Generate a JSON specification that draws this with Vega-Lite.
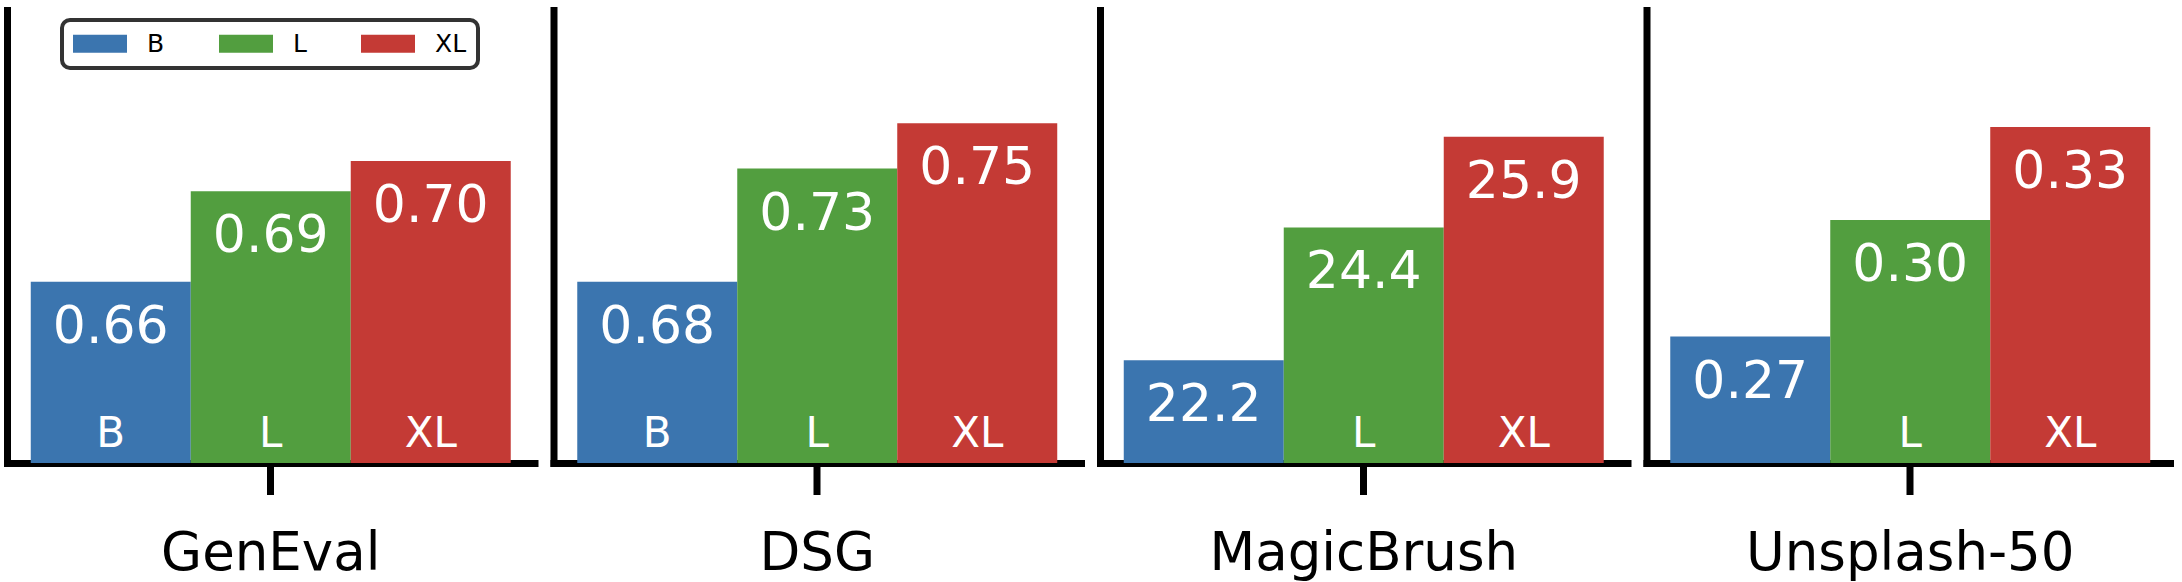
{
  "$schema": "https://vega.github.io/schema/vega-lite/v6.json",
  "padding": {"left": 7, "top": 10, "right": 0, "bottom": 0},
  "background": "white",
  "datasets": {
    "results": [
      {"benchmark": "GenEval", "size": "B", "score": 0.66, "label": "0.66", "tag": "B"},
      {"benchmark": "GenEval", "size": "L", "score": 0.69, "label": "0.69", "tag": "L"},
      {"benchmark": "GenEval", "size": "XL", "score": 0.70, "label": "0.70", "tag": "XL"},
      {"benchmark": "DSG", "size": "B", "score": 0.68, "label": "0.68", "tag": "B"},
      {"benchmark": "DSG", "size": "L", "score": 0.73, "label": "0.73", "tag": "L"},
      {"benchmark": "DSG", "size": "XL", "score": 0.75, "label": "0.75", "tag": "XL"},
      {"benchmark": "MagicBrush", "size": "B", "score": 22.2, "label": "22.2", "tag": ""},
      {"benchmark": "MagicBrush", "size": "L", "score": 24.4, "label": "24.4", "tag": "L"},
      {"benchmark": "MagicBrush", "size": "XL", "score": 25.9, "label": "25.9", "tag": "XL"},
      {"benchmark": "Unsplash-50", "size": "B", "score": 0.2735, "label": "0.27", "tag": ""},
      {"benchmark": "Unsplash-50", "size": "L", "score": 0.3044, "label": "0.30", "tag": "L"},
      {"benchmark": "Unsplash-50", "size": "XL", "score": 0.329, "label": "0.33", "tag": "XL"}
    ]
  },
  "spacing": 18.5,
  "bounds": "flush",
  "hconcat": [
    {
      "width": 527.5, "height": 453,
      "data": {"name": "results"},
      "transform": [{"filter": "datum.benchmark === 'GenEval'"}],
      "encoding": {
        "x": {"field": "benchmark", "type": "nominal", "title": null, "scale": {"paddingInner": 0, "paddingOuter": 0.0495}},
        "xOffset": {"field": "size", "type": "nominal", "sort": ["B", "L", "XL"], "scale": {"paddingInner": 0, "paddingOuter": 0}}
      },
      "layer": [
        {"mark": {"type": "bar"},
         "encoding": {
           "y": {"field": "score", "type": "quantitative", "title": null, "scale": {"domain": [0.6, 0.75], "nice": false, "zero": false}},
           "y2": {"datum": 0.6},
           "color": {"field": "size", "type": "nominal", "scale": {"domain": ["B", "L", "XL"], "range": ["#3b75af", "#529e3f", "#c43a35"]},
             "legend": {"title": null, "orient": "none", "legendX": 55, "legendY": 10, "direction": "horizontal", "columns": 3, "symbolType": "M-1,-0.72H3.32V0.72H-1Z", "symbolSize": 625, "symbolStrokeWidth": 0, "symbolOpacity": 1, "labelOffset": 49, "columnPadding": 54, "labelFontSize": 25, "labelFont": "DejaVu Sans", "labelColor": "black", "padding": 11, "fillColor": "white", "strokeColor": "#333333", "cornerRadius": 8,
               "encode": {"legend": {"update": {"strokeWidth": {"value": 4}}}}}}
         }},
        {"mark": {"type": "text", "color": "white", "fontSize": 52, "font": "DejaVu Sans", "baseline": "alphabetic", "dy": 61},
         "encoding": {"y": {"field": "score", "type": "quantitative"}, "text": {"field": "label"}}},
        {"mark": {"type": "text", "color": "white", "fontSize": 42, "font": "DejaVu Sans", "baseline": "alphabetic", "dy": -16.5},
         "encoding": {"y": {"datum": 0.6, "type": "quantitative"}, "text": {"field": "tag"}}}
      ]
    },
    {
      "width": 527.5, "height": 453,
      "data": {"name": "results"},
      "transform": [{"filter": "datum.benchmark === 'DSG'"}],
      "encoding": {
        "x": {"field": "benchmark", "type": "nominal", "title": null, "scale": {"paddingInner": 0, "paddingOuter": 0.0495}},
        "xOffset": {"field": "size", "type": "nominal", "sort": ["B", "L", "XL"], "scale": {"paddingInner": 0, "paddingOuter": 0}}
      },
      "layer": [
        {"mark": {"type": "bar"},
         "encoding": {
           "y": {"field": "score", "type": "quantitative", "title": null, "scale": {"domain": [0.6, 0.8], "nice": false, "zero": false}},
           "y2": {"datum": 0.6},
           "color": {"field": "size", "type": "nominal", "scale": {"domain": ["B", "L", "XL"], "range": ["#3b75af", "#529e3f", "#c43a35"]}}
         }},
        {"mark": {"type": "text", "color": "white", "fontSize": 52, "font": "DejaVu Sans", "baseline": "alphabetic", "dy": 61},
         "encoding": {"y": {"field": "score", "type": "quantitative"}, "text": {"field": "label"}}},
        {"mark": {"type": "text", "color": "white", "fontSize": 42, "font": "DejaVu Sans", "baseline": "alphabetic", "dy": -16.5},
         "encoding": {"y": {"datum": 0.6, "type": "quantitative"}, "text": {"field": "tag"}}}
      ]
    },
    {
      "width": 527.5, "height": 453,
      "data": {"name": "results"},
      "transform": [{"filter": "datum.benchmark === 'MagicBrush'"}],
      "encoding": {
        "x": {"field": "benchmark", "type": "nominal", "title": null, "scale": {"paddingInner": 0, "paddingOuter": 0.0495}},
        "xOffset": {"field": "size", "type": "nominal", "sort": ["B", "L", "XL"], "scale": {"paddingInner": 0, "paddingOuter": 0}}
      },
      "layer": [
        {"mark": {"type": "bar"},
         "encoding": {
           "y": {"field": "score", "type": "quantitative", "title": null, "scale": {"domain": [20.5, 28], "nice": false, "zero": false}},
           "y2": {"datum": 20.5},
           "color": {"field": "size", "type": "nominal", "scale": {"domain": ["B", "L", "XL"], "range": ["#3b75af", "#529e3f", "#c43a35"]}}
         }},
        {"mark": {"type": "text", "color": "white", "fontSize": 52, "font": "DejaVu Sans", "baseline": "alphabetic", "dy": 61},
         "encoding": {"y": {"field": "score", "type": "quantitative"}, "text": {"field": "label"}}},
        {"mark": {"type": "text", "color": "white", "fontSize": 42, "font": "DejaVu Sans", "baseline": "alphabetic", "dy": -16.5},
         "encoding": {"y": {"datum": 20.5, "type": "quantitative"}, "text": {"field": "tag"}}}
      ]
    },
    {
      "width": 527.5, "height": 453,
      "data": {"name": "results"},
      "transform": [{"filter": "datum.benchmark === 'Unsplash-50'"}],
      "encoding": {
        "x": {"field": "benchmark", "type": "nominal", "title": null, "scale": {"paddingInner": 0, "paddingOuter": 0.0495}},
        "xOffset": {"field": "size", "type": "nominal", "sort": ["B", "L", "XL"], "scale": {"paddingInner": 0, "paddingOuter": 0}}
      },
      "layer": [
        {"mark": {"type": "bar"},
         "encoding": {
           "y": {"field": "score", "type": "quantitative", "title": null, "scale": {"domain": [0.24, 0.36], "nice": false, "zero": false}},
           "y2": {"datum": 0.24},
           "color": {"field": "size", "type": "nominal", "scale": {"domain": ["B", "L", "XL"], "range": ["#3b75af", "#529e3f", "#c43a35"]}}
         }},
        {"mark": {"type": "text", "color": "white", "fontSize": 52, "font": "DejaVu Sans", "baseline": "alphabetic", "dy": 61},
         "encoding": {"y": {"field": "score", "type": "quantitative"}, "text": {"field": "label"}}},
        {"mark": {"type": "text", "color": "white", "fontSize": 42, "font": "DejaVu Sans", "baseline": "alphabetic", "dy": -16.5},
         "encoding": {"y": {"datum": 0.24, "type": "quantitative"}, "text": {"field": "tag"}}}
      ]
    }
  ],
  "config": {
    "view": {"stroke": null},
    "font": "DejaVu Sans",
    "bar": {"stroke": null},
    "legend": {"strokeWidth": 4},
    "axisY": {"domain": true, "domainColor": "black", "domainWidth": 7, "domainCap": "square", "ticks": false, "labels": false, "grid": false},
    "axisX": {"domain": true, "domainColor": "black", "domainWidth": 7, "domainCap": "square", "ticks": true, "tickColor": "black", "tickWidth": 7, "tickSize": 31.5, "labelFontSize": 53, "labelFont": "DejaVu Sans", "labelColor": "black", "labelPadding": 33, "labelAngle": 0, "labelLimit": 0, "grid": false}
  }
}
